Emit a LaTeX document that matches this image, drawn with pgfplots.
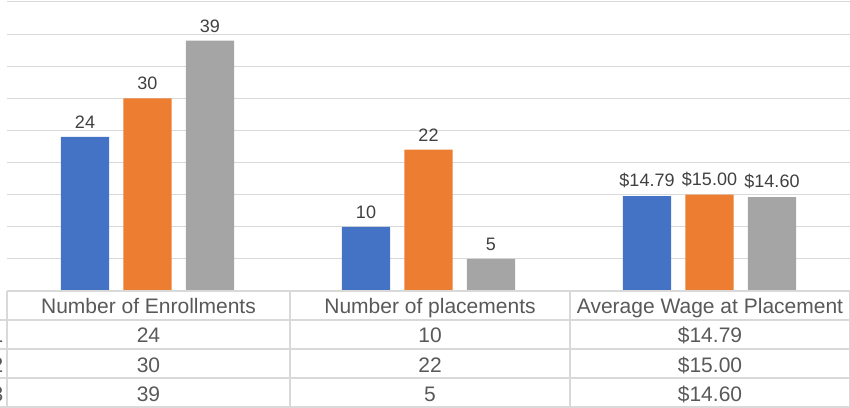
\documentclass[border=0pt]{standalone}
\usepackage{pgfplots}
\pgfplotsset{compat=1.18}
\usepackage{fontspec}
\setmainfont{Liberation Sans}
\definecolor{cblue}{HTML}{4472C4}
\definecolor{corange}{HTML}{ED7D31}
\definecolor{cgray}{HTML}{A5A5A5}
\definecolor{gridc}{HTML}{D9D9D9}
\definecolor{txtc}{HTML}{595959}
\definecolor{labc}{HTML}{404040}
\begin{document}
\begin{tikzpicture}
\path[use as bounding box] (0,0) rectangle (850bp,408bp);
\begin{axis}[
  at={(7bp,117bp)}, anchor=south west,
  scale only axis, width=843bp, height=289bp,
  xmin=-0.5, xmax=2.5, ymin=0, ymax=45,
  ytick={5,10,...,45}, yticklabels={}, xtick=\empty,
  ymajorgrids, grid style={draw=gridc, line width=1bp},
  axis line style={draw=none}, major tick style={draw=none},
  ybar, bar width=0.171, clip=false,
  nodes near coords,
  point meta=explicit symbolic,
  every node near coord/.append style={font=\fontsize{18bp}{20bp}\selectfont, text=labc, anchor=south, inner sep=0pt, yshift=8bp},
]
\addplot[fill=cblue, draw=none, bar shift=-0.2224] table[x=x, y=y, meta=lab] {
x y lab
0 24 24
1 10 10
2 14.79 \$14.79
};
\addplot[fill=corange, draw=none, bar shift=0] table[x=x, y=y, meta=lab] {
x y lab
0 30 30
1 22 22
2 15.00 \$15.00
};
\addplot[fill=cgray, draw=none, bar shift=0.2224] table[x=x, y=y, meta=lab] {
x y lab
0 39 39
1 5 5
2 14.60 \$14.60
};
\end{axis}
% data table
\begin{scope}[draw=gridc, line width=1.2bp]
\draw (7bp,117bp) -- (850bp,117bp);
\draw (0bp,88bp) -- (850bp,88bp);
\draw (0bp,59bp) -- (850bp,59bp);
\draw (0bp,30bp) -- (850bp,30bp);
\draw (0bp,1bp) -- (850bp,1bp);
\draw (7bp,117bp) -- (7bp,0bp);
\draw (290bp,117bp) -- (290bp,0bp);
\draw (570bp,117bp) -- (570bp,0bp);
\draw (849.4bp,117bp) -- (849.4bp,0bp);
\end{scope}
\begin{scope}[every node/.style={font=\fontsize{21bp}{23bp}\selectfont, text=txtc, inner sep=0pt, anchor=base}]
\node at (148.5bp,94bp) {Number of Enrollments};
\node at (430bp,94bp) {Number of placements};
\node at (710bp,94bp) {Average Wage at Placement};
\node at (148.5bp,65bp) {24};
\node at (430bp,65bp) {10};
\node at (710bp,65bp) {\$14.79};
\node at (148.5bp,36bp) {30};
\node at (430bp,36bp) {22};
\node at (710bp,36bp) {\$15.00};
\node at (148.5bp,7bp) {39};
\node at (430bp,7bp) {5};
\node at (710bp,7bp) {\$14.60};
\node[anchor=base east] at (3.6bp,65bp) {1};
\node[anchor=base east] at (3.6bp,36bp) {2};
\node[anchor=base east] at (3.6bp,7bp) {3};
\end{scope}
\end{tikzpicture}
\end{document}
